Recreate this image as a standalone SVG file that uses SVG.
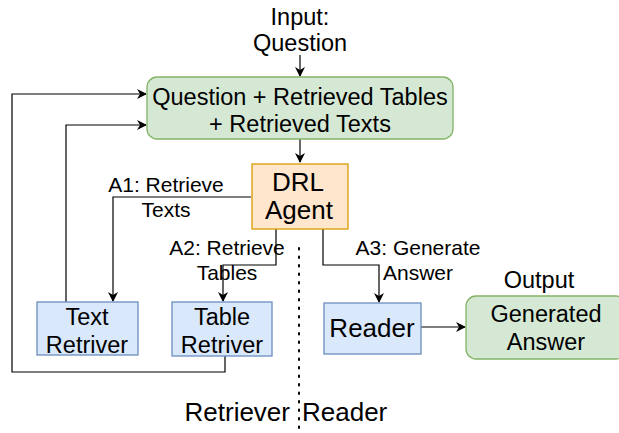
<svg xmlns="http://www.w3.org/2000/svg" width="619" height="433" viewBox="0 0 619 433">
<defs>
<marker id="ah" viewBox="0 0 10 10" refX="9" refY="5" markerWidth="10" markerHeight="10" markerUnits="userSpaceOnUse" orient="auto">
<path d="M0,0 L10,5 L0,10 L3,5 Z" fill="#000"/>
</marker>
<style>
text{font-family:"Liberation Sans",Arial,sans-serif;fill:#000;text-anchor:middle}
.t23{font-size:23.5px}
.t21{font-size:21px}
.t25{font-size:26px}
.green{fill:#d5e8d4;stroke:#82b366;stroke-width:1.3}
.orange{fill:#ffe6cc;stroke:#d79b00;stroke-width:1.3}
.blue{fill:#dae8fc;stroke:#6c8ebf;stroke-width:1.3}
.edge{fill:none;stroke:#000;stroke-width:1.2}
</style>
</defs>
<rect width="619" height="433" fill="#fff"/>
<g id="connectors">
<path class="edge" d="M300,55 V76" marker-end="url(#ah)"/>
<path class="edge" d="M300,139 V162" marker-end="url(#ah)"/>
<path class="edge" d="M251,197 H113 V301" marker-end="url(#ah)"/>
<path class="edge" d="M276,229 V265 H223 V301" marker-end="url(#ah)"/>
<path class="edge" d="M323,229 V265 H379 V302" marker-end="url(#ah)"/>
<path class="edge" d="M66,302 V125 H146" marker-end="url(#ah)"/>
<path class="edge" d="M225,356 V372 H12 V94 H146" marker-end="url(#ah)"/>
<path class="edge" d="M421,327 H465" marker-end="url(#ah)"/>
<line x1="299" y1="248" x2="299" y2="433" stroke="#000" stroke-width="2" stroke-dasharray="1.5,7" stroke-linecap="round"/>
</g>
<g id="input">
<text class="t23" x="300" y="25">Input:</text>
<text class="t23" x="300" y="51">Question</text>
</g>
<g id="state">
<rect class="green" x="147" y="77" width="306" height="62" rx="10"/>
<text class="t23" x="300" y="105">Question + Retrieved Tables</text>
<text class="t23" x="300" y="132">+ Retrieved Texts</text>
</g>
<g id="agent">
<rect class="orange" x="252" y="164" width="96" height="65"/>
<text class="t25" x="298" y="191">DRL</text>
<text class="t25" x="299" y="219">Agent</text>
</g>
<g id="labels">
<text class="t21" x="166" y="192">A1: Retrieve</text>
<text class="t21" x="166" y="217">Texts</text>
<text class="t21" x="227" y="255">A2: Retrieve</text>
<text class="t21" x="227" y="280">Tables</text>
<text class="t21" x="418" y="255">A3: Generate</text>
<text class="t21" x="418" y="280">Answer</text>
</g>
<g id="text-retriever">
<rect class="blue" x="37" y="302" width="101" height="53"/>
<text class="t23" x="87" y="325">Text</text>
<text class="t23" x="87" y="353">Retriver</text>
</g>
<g id="table-retriever">
<rect class="blue" x="172" y="302" width="100" height="54"/>
<text class="t23" x="222" y="325">Table</text>
<text class="t23" x="222" y="353">Retriver</text>
</g>
<g id="reader">
<rect class="blue" x="324" y="303" width="97" height="51"/>
<text class="t25" x="372" y="337">Reader</text>
</g>
<g id="output">
<text class="t23" x="539" y="288">Output</text>
<rect class="green" x="466" y="296" width="160" height="63" rx="10"/>
<text class="t23" x="546" y="322">Generated</text>
<text class="t23" x="546" y="350">Answer</text>
</g>
<g id="sections">
<text class="t25" x="290" y="421" style="text-anchor:end">Retriever</text>
<text class="t25" x="302" y="421" style="text-anchor:start">Reader</text>
</g>
</svg>
